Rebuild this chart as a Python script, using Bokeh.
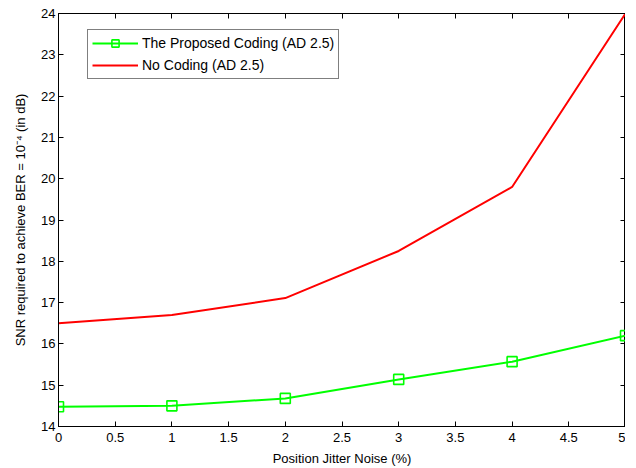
from bokeh.plotting import figure
from bokeh.models import LinearAxis, FixedTicker, Range1d, Legend, LegendItem
from bokeh.embed import file_html
from bokeh.resources import INLINE

jitter = [0, 1, 2, 3, 4, 5]
proposed = [14.48, 14.50, 14.68, 15.14, 15.57, 16.20]
no_coding = [16.50, 16.70, 17.11, 18.25, 19.80, 24.00]

x_ticks = [0, 0.5, 1, 1.5, 2, 2.5, 3, 3.5, 4, 4.5, 5]
x_tick_labels = ["0", "0.5", "1", "1.5", "2", "2.5", "3", "3.5", "4", "4.5", "5"]
y_ticks = [14, 15, 16, 17, 18, 19, 20, 21, 22, 23, 24]

FONT = "Liberation Sans"

p = figure(width=625, height=468, output_backend="svg", toolbar_location=None,
           x_range=Range1d(0, 5), y_range=Range1d(14, 24),
           min_border_left=58, min_border_top=13, min_border_right=0, min_border_bottom=25)
p.grid.visible = False
p.outline_line_color = "black"
p.outline_line_width = 1
p.background_fill_color = "white"

for ax in (p.xaxis[0], p.yaxis[0]):
    ax.major_tick_in = 5
    ax.major_tick_out = 0
    ax.minor_tick_line_color = None
    ax.axis_line_color = "black"
    ax.major_tick_line_color = "black"
    ax.major_label_text_font = FONT
    ax.major_label_text_font_size = "13px"
    ax.major_label_text_color = "black"
    ax.axis_label_text_font = FONT
    ax.axis_label_text_font_size = "13px"
    ax.axis_label_text_font_style = "normal"
    ax.axis_label_text_color = "black"

p.xaxis[0].ticker = FixedTicker(ticks=x_ticks)
p.xaxis[0].major_label_overrides = {t: l for t, l in zip(x_ticks, x_tick_labels)}
p.xaxis[0].axis_label = "Position Jitter Noise (%)"
p.xaxis[0].major_label_standoff = 6
p.xaxis[0].axis_label_standoff = 6

p.yaxis[0].ticker = FixedTicker(ticks=y_ticks)
p.yaxis[0].axis_label = "SNR required to achieve BER = 10\u207b\u2074 (in dB)"
p.yaxis[0].major_label_standoff = 3
p.yaxis[0].axis_label_standoff = 10

# mirrored tick axes (box on)
top = LinearAxis(ticker=FixedTicker(ticks=x_ticks), major_tick_in=5, major_tick_out=0,
                 minor_tick_line_color=None, major_label_text_color=None,
                 major_label_overrides={t: "" for t in x_ticks},
                 major_label_standoff=0, axis_line_color="black")
right = LinearAxis(ticker=FixedTicker(ticks=y_ticks), major_tick_in=5, major_tick_out=0,
                   minor_tick_line_color=None, major_label_text_color=None,
                   major_label_overrides={t: "" for t in y_ticks},
                   major_label_standoff=0, axis_line_color="black")
p.add_layout(top, "above")
p.add_layout(right, "right")

g_line = p.line(jitter, proposed, line_color="#00FF00", line_width=2)
g_mark = p.scatter(jitter, proposed, marker="square", size=10, fill_color=None,
                   line_color="#00FF00", line_width=1.6)
r_line = p.line(jitter, no_coding, line_color="#FF0000", line_width=2)

legend = Legend(items=[
    LegendItem(label="The Proposed Coding (AD 2.5)", renderers=[g_line, g_mark]),
    LegendItem(label="No Coding (AD 2.5)", renderers=[r_line]),
], location=(29, 347))
legend.label_text_font = FONT
legend.label_text_font_size = "14px"
legend.label_text_color = "black"
legend.border_line_color = "black"
legend.border_line_width = 1
legend.glyph_width = 46
legend.glyph_height = 18
legend.label_height = 18
legend.spacing = 4
legend.padding = 4
legend.margin = 0
legend.label_standoff = 4
legend.background_fill_alpha = 1
p.add_layout(legend, "center")

open("out.html", "w").write(file_html(p, INLINE))
